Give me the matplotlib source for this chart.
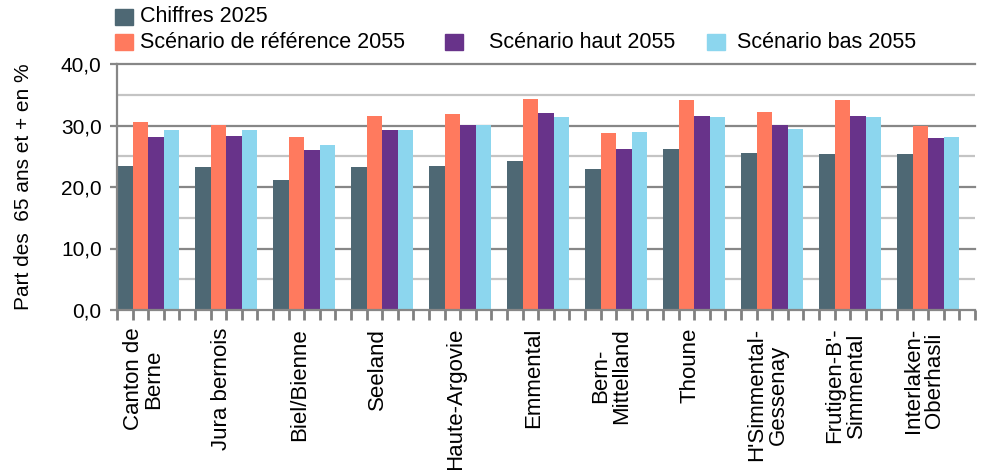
import numpy as np
import matplotlib.pyplot as plt
from matplotlib.patches import Rectangle

plt.rcParams['font.family'] = ['Liberation Sans', 'DejaVu Sans']

# Data
regions = ['Canton de\nBerne', 'Jura bernois', 'Biel/Bienne', 'Seeland', 'Haute-Argovie',
           'Emmental', 'Bern-\nMittelland', 'Thoune', "H'Simmental-\nGessenay",
           "Frutigen-B'-\nSimmental", 'Interlaken-\nOberhasli']
chiffres_2025 = [23.4, 23.2, 21.2, 23.2, 23.4, 24.3, 22.9, 26.2, 25.5, 25.4, 25.4]
scen_ref_2055 = [30.6, 30.1, 28.1, 31.6, 31.9, 34.3, 28.7, 34.1, 32.2, 34.1, 30.0]
scen_haut_2055 = [28.1, 28.3, 26.0, 29.3, 30.1, 32.1, 26.2, 31.6, 30.1, 31.6, 27.9]
scen_bas_2055 = [29.3, 29.3, 26.8, 29.3, 30.1, 31.4, 28.9, 31.4, 29.5, 31.4, 28.1]

series = [chiffres_2025, scen_ref_2055, scen_haut_2055, scen_bas_2055]
names = ['Chiffres 2025', 'Scénario de référence 2055', 'Scénario haut 2055', 'Scénario bas 2055']
colors = ['#4E6874', '#FF7A5E', '#68338A', '#8CD6EE']

fig = plt.figure(figsize=(9.87, 4.70), dpi=100)
ax = fig.add_axes([117 / 987, 1 - 310 / 470, (975 - 117) / 987, (310 - 64) / 470])

n = len(regions)
slot = 5  # 4 bars + 1 gap per group
base = np.arange(n) * slot
for j, (vals, name, c) in enumerate(zip(series, names, colors)):
    ax.bar(base + j + 0.5, vals, width=1.0, color=c, label=name, linewidth=0, zorder=2)

ax.set_xlim(0, n * slot)
ax.set_ylim(0, 40)

# grid
for y in range(5, 40, 10):
    ax.axhline(y, color='#C4C4C4', lw=1.6, zorder=1)
for y in range(0, 41, 10):
    ax.axhline(y, color='#878787', lw=1.6, zorder=1 if y else 3, clip_on=False)

ax.set_yticks(range(0, 41, 10))
ax.set_yticklabels([f'{v},0' for v in range(0, 41, 10)], fontsize=15)
ax.set_xticks(np.arange(0, n * slot + 1))
ax.set_xticklabels([])
ax.tick_params(axis='x', direction='out', length=7, width=2, color='#808080')
ax.tick_params(axis='y', direction='out', length=5, width=1.6, color='#878787', pad=6)
ax.xaxis.set_zorder(4)

for s in ['top', 'right', 'bottom']:
    ax.spines[s].set_visible(False)
ax.spines['left'].set_color('#878787')
ax.spines['left'].set_linewidth(1.6)

# category labels
for i, lab in enumerate(regions):
    ax.text(base[i] + 1.7, -2.9, lab, rotation=90, ha='center', va='top',
            multialignment='center', fontsize=16, linespacing=1.0)

ax.set_ylabel('Part des  65 ans et + en %', fontsize=15)
ax.yaxis.set_label_coords(-0.098, 0.5)

# legend (Excel-like layout)
leg_pos = [(115, 9), (115, 34), (445, 34), (707, 34)]
txt_x = [140, 140, 489, 737]
for (px, py), tx, name, c in zip(leg_pos, txt_x, names, colors):
    fig.patches.append(Rectangle((px / 987, 1 - (py + 16) / 470), 18 / 987, 16 / 470,
                                 transform=fig.transFigure, color=c))
    fig.text(tx / 987, 1 - (py + 8) / 470, name, fontsize=15.5, va='center', ha='left')

fig.savefig('out.png', dpi=100)
